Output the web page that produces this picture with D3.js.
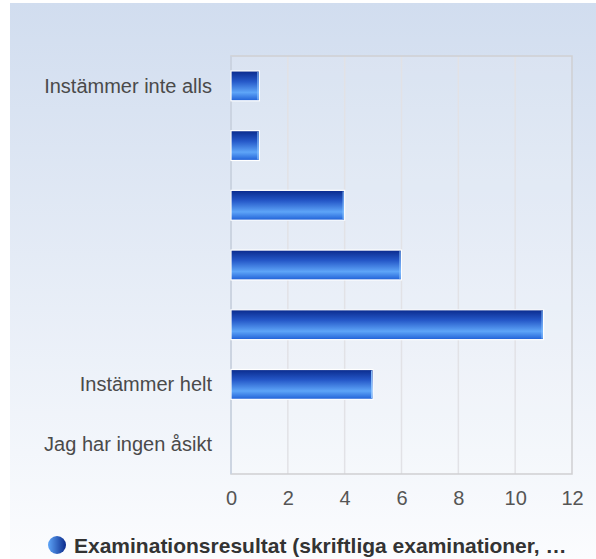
<!DOCTYPE html>
<html><head><meta charset="utf-8">
<script src="https://cdn.jsdelivr.net/npm/d3@7"></script>
<style>body{margin:0;background:#fff}svg{display:block}text{font-family:"Liberation Sans",Arial,sans-serif}</style>
</head><body>
<script>
const categories = ["Instämmer inte alls", "c2", "c3", "c4", "c5", "Instämmer helt", "Jag har ingen åsikt"];
const categoryLabels = ["Instämmer inte alls", "", "", "", "", "Instämmer helt", "Jag har ingen åsikt"];
const values = [1, 1, 4, 6, 11, 5, 0];
const xTicks = [0, 2, 4, 6, 8, 10, 12];
const seriesName = "Examinationsresultat (skriftliga examinationer, …";

const W = 596, H = 559;
const svg = d3.select("body").append("svg").attr("width", W).attr("height", H);
const defs = svg.append("defs");
const bg = defs.append("linearGradient").attr("id","bg").attr("x1",0).attr("y1",0).attr("x2",0).attr("y2",1);
bg.append("stop").attr("offset","0%").attr("stop-color","#d1ddef");
bg.append("stop").attr("offset","100%").attr("stop-color","#fbfcfe");
const bar = defs.append("linearGradient").attr("id","bar").attr("x1",0).attr("y1",0).attr("x2",0).attr("y2",1);
[["0%","#0a2a8c"],["35%","#2558c8"],["72%","#5ea5f8"],["100%","#1f5fd6"]].forEach(([o,c])=>bar.append("stop").attr("offset",o).attr("stop-color",c));
const dot = defs.append("linearGradient").attr("id","dot").attr("x1",0).attr("y1",0).attr("x2",1).attr("y2",0);
dot.append("stop").attr("offset","0%").attr("stop-color","#5ea5f8");
dot.append("stop").attr("offset","100%").attr("stop-color","#0a2a8c");

svg.append("rect").attr("x",10).attr("y",3).attr("width",W-10).attr("height",H-3).attr("fill","url(#bg)");

const m = {left:231, right:572, top:56, bottom:474};
const x = d3.scaleLinear().domain([0,12]).range([m.left, m.right]);
const y = d3.scaleBand().domain(categories).range([m.top, m.bottom]).paddingInner(0.5).paddingOuter(0.25);

svg.append("rect").attr("x",m.left).attr("y",m.top).attr("width",m.right-m.left).attr("height",m.bottom-m.top)
  .attr("fill","#ffffff").attr("fill-opacity",0.12);

// grid
svg.append("g").selectAll("line").data(xTicks.slice(1,-1)).join("line")
  .attr("x1",d=>x(d)).attr("x2",d=>x(d)).attr("y1",m.top).attr("y2",m.bottom)
  .attr("stroke","#e2e2e6").attr("stroke-width",1.5);
// border
svg.append("rect").attr("x",m.left).attr("y",m.top).attr("width",m.right-m.left).attr("height",m.bottom-m.top)
  .attr("fill","none").attr("stroke","#cfcfd2").attr("stroke-width",1.5);
svg.append("line").attr("x1",m.left).attr("x2",m.left).attr("y1",m.top).attr("y2",m.bottom).attr("stroke","#c9d3e3").attr("stroke-width",1.5);

// bars
const barData = values.map((v,i)=>({c:categories[i],v})).filter(d=>d.v>0);
const bars = svg.append("g").selectAll("g").data(barData).join("g");
bars.append("rect").attr("x",x(0)).attr("y",d=>y(d.c)).attr("width",d=>x(d.v)-x(0)).attr("height",y.bandwidth())
  .attr("fill","url(#bar)").attr("stroke","#ffffff").attr("stroke-width",1.2);
bars.append("line").attr("x1",d=>x(d.v)-1.5).attr("x2",d=>x(d.v)-1.5).attr("y1",d=>y(d.c)+1).attr("y2",d=>y(d.c)+y.bandwidth()-1)
  .attr("stroke","#8cc4ff").attr("stroke-width",1);

// y labels
svg.append("g").selectAll("text").data(categories).join("text")
  .attr("x",212).attr("y",d=>y(d)+y.bandwidth()/2).attr("dy","0.35em").attr("text-anchor","end")
  .attr("font-size",20).attr("fill","#4a4a4a").text((d,i)=>categoryLabels[i]);

// x axis
const xa = svg.append("g").attr("transform",`translate(0,${m.bottom})`).call(d3.axisBottom(x).tickValues(xTicks).tickSize(0).tickPadding(17));
xa.select(".domain").remove();
xa.selectAll("text").attr("font-size",20).attr("fill","#555").attr("font-family","Liberation Sans, Arial, sans-serif");

// legend
svg.append("circle").attr("cx",57).attr("cy",545).attr("r",9).attr("fill","url(#dot)");
svg.append("text").attr("x",74).attr("y",545).attr("dy","0.36em").attr("font-size",21).attr("font-weight","bold").attr("fill","#333").text(seriesName);
</script>
</body></html>
